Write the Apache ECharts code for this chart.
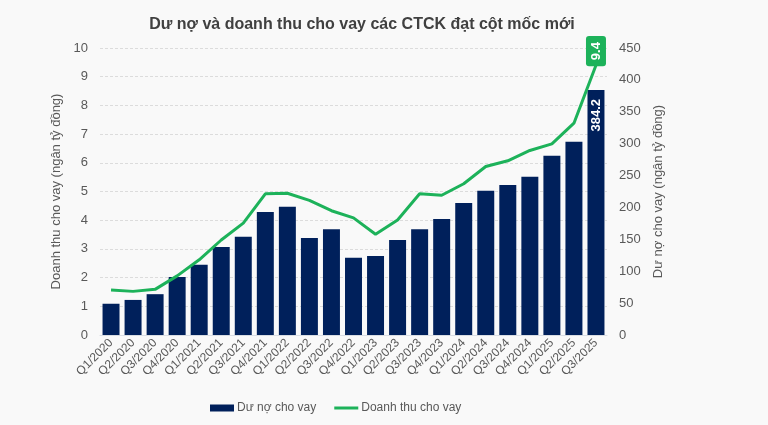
<!DOCTYPE html>
<html>
<head>
<meta charset="utf-8">
<script src="https://cdn.jsdelivr.net/npm/echarts@6/dist/echarts.min.js"></script>
<style>
html, body { margin: 0; padding: 0; background: #f9f9f9; }
#chart { width: 768px; height: 425px; }
</style>
</head>
<body>
<div id="chart"></div>
<script>
var quarters = ['Q1/2020', 'Q2/2020', 'Q3/2020', 'Q4/2020', 'Q1/2021', 'Q2/2021', 'Q3/2021', 'Q4/2021',
	'Q1/2022', 'Q2/2022', 'Q3/2022', 'Q4/2022', 'Q1/2023', 'Q2/2023', 'Q3/2023', 'Q4/2023',
	'Q1/2024', 'Q2/2024', 'Q3/2024', 'Q4/2024', 'Q1/2025', 'Q2/2025', 'Q3/2025'];
// dư nợ (ngàn tỷ đồng) - trục phải
var duNo = [49, 55, 64, 91, 110, 138, 154, 193, 201, 152, 166, 121, 124, 149, 166, 182, 207, 226, 235, 248, 281, 303, 384.2];
// doanh thu (ngàn tỷ đồng) - trục trái
var doanhThu = [1.57, 1.52, 1.59, 2.06, 2.62, 3.31, 3.90, 4.92, 4.94, 4.69, 4.33, 4.08, 3.51, 4.01, 4.92, 4.87,
	5.27, 5.87, 6.07, 6.43, 6.66, 7.38, 9.4];

var font = 'Liberation Sans, Arial, sans-serif';
var textGray = '#595959';
var navy = '#00205b';
var green = '#1db25a';

var chart = echarts.init(document.getElementById('chart'));

// chỉ hiện nhãn ở điểm cuối
var lastIdx = quarters.length - 1;
var barData = duNo.map(function(v, i) {
	if(i != lastIdx) return v;
	return {
		value: v,
		label: {
			show: true,
			position: 'insideTop',
			rotate: 90,
			align: 'right',
			verticalAlign: 'middle',
			distance: 9,
			color: '#fff',
			fontWeight: 'bold',
			fontSize: 13,
			fontFamily: font
		}
	};
});
var lineData = doanhThu.map(function(v, i) {
	if(i != lastIdx) return v;
	return {
		value: v,
		label: {
			show: true,
			position: 'top',
			rotate: 90,
			align: 'left',
			verticalAlign: 'middle',
			distance: -1,
			color: '#fff',
			fontWeight: 'bold',
			fontSize: 13,
			fontFamily: font,
			backgroundColor: green,
			borderRadius: 3,
			padding: [4, 6, 3, 6]
		}
	};
});

chart.setOption({
	backgroundColor: '#f9f9f9',
	animation: false,
	textStyle: { fontFamily: font },
	title: {
		text: 'Dư nợ và doanh thu cho vay các CTCK đạt cột mốc mới',
		left: 357,
		top: 12,
		textAlign: 'center',
		textStyle: { fontSize: 16, fontWeight: 'bold', color: '#404040', fontFamily: font }
	},
	legend: {
		bottom: 6,
		left: 205,
		itemWidth: 24,
		itemHeight: 7,
		itemGap: 18,
		textStyle: { color: textGray, fontSize: 12, fontFamily: font, padding: [0, 0, 0, -2] },
		data: [
			{ name: 'Dư nợ cho vay', icon: 'rect' },
			{ name: 'Doanh thu cho vay', icon: 'path://M0,0 L24,0 L24,3 L0,3 Z', itemStyle: { color: green } }
		]
	},
	grid: { left: 100, right: 161, top: 48, bottom: 90 },
	xAxis: {
		type: 'category',
		data: quarters,
		axisTick: { show: false },
		axisLine: { lineStyle: { color: '#d9dde3' } },
		axisLabel: { rotate: 45, fontSize: 12, color: textGray, margin: 6, interval: 0 }
	},
	yAxis: [{
		type: 'value',
		min: 0,
		max: 10,
		interval: 1,
		name: 'Doanh thu cho vay (ngân tỷ đồng)',
		nameLocation: 'middle',
		nameGap: 35,
		nameTextStyle: { color: textGray, fontSize: 13 },
		axisLabel: { color: textGray, fontSize: 13, margin: 12 },
		splitLine: { lineStyle: { color: '#dcdcdc', type: [3, 2] } }
	}, {
		type: 'value',
		min: 0,
		max: 450,
		interval: 50,
		name: 'Dư nợ cho vay (ngân tỷ đồng)',
		nameLocation: 'middle',
		nameGap: 44,
		nameTextStyle: { color: textGray, fontSize: 13 },
		axisLabel: { color: textGray, fontSize: 13, margin: 12 },
		splitLine: { show: false }
	}],
	series: [{
		name: 'Dư nợ cho vay',
		type: 'bar',
		yAxisIndex: 1,
		barCategoryGap: '23%',
		itemStyle: { color: navy },
		data: barData
	}, {
		name: 'Doanh thu cho vay',
		type: 'line',
		yAxisIndex: 0,
		symbol: 'circle',
		symbolSize: 0.1,
		showSymbol: true,
		lineStyle: { color: green, width: 3 },
		itemStyle: { color: green },
		data: lineData
	}]
});
</script>
</body>
</html>
